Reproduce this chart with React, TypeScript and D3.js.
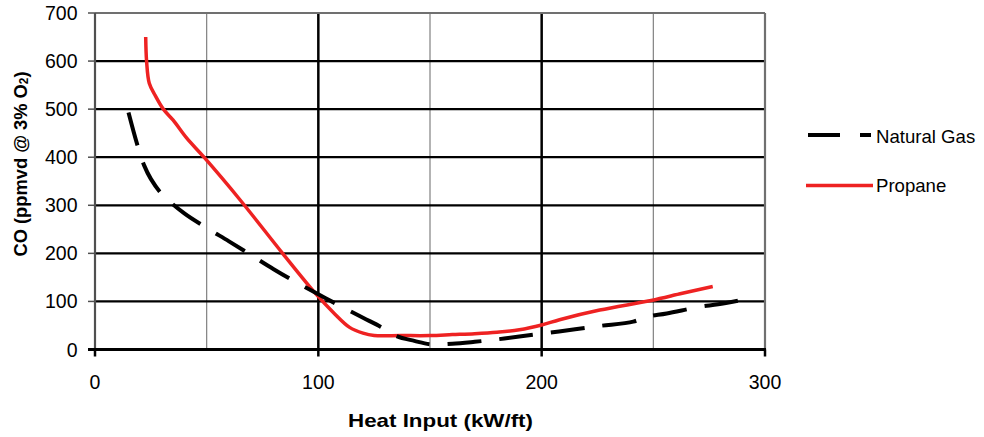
import React from "react";
import * as d3 from "d3";

const natGasX = [15, 19, 22, 25, 30, 40, 50, 60, 70, 80, 90, 100, 110, 120, 128, 135, 143, 150, 160, 170, 180, 190, 202, 215, 226, 241, 247, 256, 271, 279, 294];
const natGasY = [493, 425, 383, 355, 323, 283, 253, 225, 196, 167, 140, 115, 90, 66, 47, 28, 18, 11, 12, 16, 21, 27, 34, 42, 49, 58, 68, 75, 89, 94, 107];
const propX = [22.7, 23.1, 24.3, 27, 30.6, 35, 41, 48.8, 65, 84, 99, 106.7, 114, 120, 125, 137, 150, 160, 170, 180, 190, 200, 208, 226, 249, 263, 276.6];
const propY = [650, 600, 554, 528, 500, 477, 440, 400, 311, 200, 115, 77, 46, 34, 29, 29, 29, 31, 33, 36, 41, 51, 62, 82, 102, 117, 131];

const xTicks = [0, 100, 200, 300];
const xMinor = [50, 150, 250];
const yTicks = [0, 100, 200, 300, 400, 500, 600, 700];

const legendNames = ["Natural Gas", "Propane"];

export default function App() {
  const W = 984, H = 437;
  const x = d3.scaleLinear().domain([0, 300]).range([95, 765]);
  const y = d3.scaleLinear().domain([0, 700]).range([349.5, 13]);
  const line = d3.line<[number, number]>().x(d => x(d[0])).y(d => y(d[1])).curve(d3.curveCatmullRom.alpha(0.5));
  const ng = natGasX.map((v, i) => [v, natGasY[i]] as [number, number]);
  const pr = propX.map((v, i) => [v, propY[i]] as [number, number]);
  const font = "'Liberation Sans', Arial, sans-serif";

  return (
    <svg width={W} height={H} style={{ position: "absolute", left: 0, top: 0, background: "#fff" }} fontFamily={font}>
      <rect width={W} height={H} fill="#fff" />
      {xMinor.map(v => (
        <line key={"xm" + v} x1={x(v)} x2={x(v)} y1={y(700)} y2={y(0)} stroke="#808080" strokeWidth={1.2} />
      ))}
      {xTicks.filter(v => v > 0 && v < 300).map(v => (
        <line key={"xg" + v} x1={x(v)} x2={x(v)} y1={y(700)} y2={y(0)} stroke="#000" strokeWidth={2.5} />
      ))}
      {yTicks.filter(v => v > 0 && v < 700).map(v => (
        <line key={"yg" + v} x1={x(0)} x2={x(300)} y1={y(v)} y2={y(v)} stroke="#000" strokeWidth={2.2} />
      ))}
      <line x1={x(0)} x2={x(300)} y1={y(700)} y2={y(700)} stroke="#707070" strokeWidth={2.2} />
      <line x1={x(300)} x2={x(300)} y1={y(700)} y2={y(0)} stroke="#707070" strokeWidth={2.2} />
      <line x1={x(0)} x2={x(0)} y1={y(700)} y2={y(0)} stroke="#505050" strokeWidth={2.2} />
      {yTicks.map(v => (
        <line key={"yt" + v} x1={x(0) - 7} x2={x(0)} y1={y(v)} y2={y(v)} stroke="#505050" strokeWidth={1.5} />
      ))}
      <line x1={x(0) - 7} x2={x(300) + 1} y1={y(0)} y2={y(0)} stroke="#000" strokeWidth={3} />
      {xTicks.map(v => (
        <line key={"xt" + v} x1={x(v)} x2={x(v)} y1={y(0)} y2={y(0) + 7} stroke="#000" strokeWidth={2.5} />
      ))}
      {yTicks.map(v => (
        <text key={"yl" + v} x={77.5} y={y(v) + 7} textAnchor="end" fontSize={19.5} fill="#000">{v}</text>
      ))}
      {xTicks.map(v => (
        <text key={"xl" + v} x={x(v)} y={389} textAnchor="middle" fontSize={19.5} fill="#000">{v}</text>
      ))}
      <text x={440.5} y={427} textAnchor="middle" fontSize={18.6} fontWeight="bold" textLength={185} lengthAdjust="spacingAndGlyphs">Heat Input (kW/ft)</text>
      <text transform="translate(26.5,164) rotate(-90)" textAnchor="middle" fontSize={18.6} fontWeight="bold" textLength={185} lengthAdjust="spacingAndGlyphs">
        CO (ppmvd @ 3% O<tspan fontSize={12} dy={1}>2</tspan><tspan dy={-1}>)</tspan>
      </text>
      <path d={line(pr) || ""} fill="none" stroke="#ee2222" strokeWidth={3.5} strokeLinejoin="round" />
      <path d={line(ng) || ""} fill="none" stroke="#000" strokeWidth={4} strokeDasharray="34 18" />
      <line x1={808} x2={871} y1={135} y2={135} stroke="#000" strokeWidth={4} strokeDasharray="32 20" />
      <text x={876} y={143} fontSize={18.6} fill="#000">{legendNames[0]}</text>
      <line x1={806} x2={873} y1={185.5} y2={185.5} stroke="#ee2222" strokeWidth={3.5} />
      <text x={876} y={192} fontSize={18.6} fill="#000">{legendNames[1]}</text>
    </svg>
  );
}
